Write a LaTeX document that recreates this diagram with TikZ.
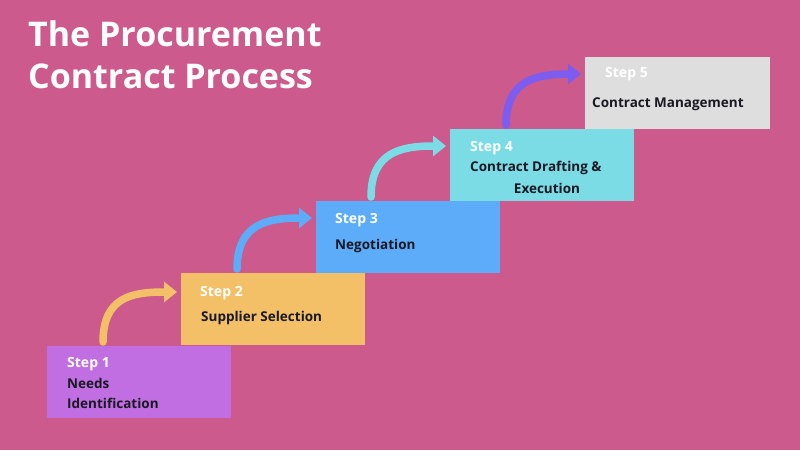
\documentclass[tikz,border=0pt]{standalone}
\usepackage{fontspec}
\setmainfont{Open Sans}
\definecolor{bgpink}{RGB}{205,90,140}
\definecolor{stepviolet}{RGB}{192,110,226}
\definecolor{steporange}{RGB}{243,192,104}
\definecolor{stepblue}{RGB}{92,172,250}
\definecolor{stepcyan}{RGB}{124,220,230}
\definecolor{stepgray}{RGB}{222,222,222}
\definecolor{arrowviolet}{RGB}{125,92,240}
\definecolor{textdark}{RGB}{25,25,35}
\usetikzlibrary{calc}
\usetikzlibrary{positioning,arrows.meta}
\tikzset{
  box/.style={anchor=north west, minimum width=184pt, minimum height=72pt, inner sep=0pt, draw=none},
  steplbl/.style={anchor=west, inner sep=0pt, text=white, font=\bfseries\fontsize{14}{16}\selectfont},
  desc/.style={anchor=west, inner sep=0pt, text=textdark, font=\bfseries\fontsize{13.5}{16}\selectfont},
  stepar/.style={line width=7.5pt, line cap=round, -{Triangle[length=13pt,width=20pt]}}
}
\begin{document}
\begin{tikzpicture}[x=1pt,y=-1pt]
  \fill [bgpink] (0,0) rectangle (800,450);
  \useasboundingbox (0,0) rectangle (800,450);

  \node [anchor=north west, inner sep=0pt, text=white, align=left,
    font=\bfseries\fontsize{34}{42}\selectfont] (title) at (28,20) {The Procurement\\Contract Process};

  \node [box, fill=stepviolet] (box1) at (47,346) {};
  \node [box, fill=steporange] (box2) at (181,273) {};
  \node [box, fill=stepblue] (box3) at (316,201) {};
  \node [box, fill=stepcyan] (box4) at (450,129) {};
  \node [box, fill=stepgray, minimum width=185pt] (box5) at (585,57) {};

  \node [steplbl] (s1) at (67,364) {Step 1};
  \node [desc] (d1a) at (67,383) {Needs};
  \node [desc] (d1b) at (67,403) {Identification};
  \node [steplbl] (s2) at (200,293) {Step 2};
  \node [desc] (d2) at (201,318) {Supplier Selection};
  \node [steplbl] (s3) at (335,220) {Step 3};
  \node [desc] (d3) at (335,246) {Negotiation};
  \node [steplbl] (s4) at (470,148) {Step 4};
  \node [desc] (d4a) at (470,168) {Contract Drafting \&};
  \node [desc, anchor=center] (d4b) at (547,188) {Execution};
  \node [steplbl] (s5) at (605,74) {Step 5};
  \node [desc] (d5) at (592,104) {Contract Management};

  \coordinate (a1) at ($(box1.north west)+(56,-4)$);
  \coordinate (a2) at ($(box2.north west)+(56,-4)$);
  \coordinate (a3) at ($(box3.north west)+(55,-4)$);
  \coordinate (a4) at ($(box4.north west)+(56,-4)$);
  \coordinate (e2) at ($(box2.north west)+(-4,19)$);
  \coordinate (e3) at ($(box3.north west)+(-4,17)$);
  \coordinate (e4) at ($(box4.north west)+(-4,17)$);
  \coordinate (e5) at ($(box5.north west)+(-4,17)$);

  \draw [stepar, steporange] (a1) .. controls ($(a1)+(0,-45)$) and ($(e2)+(-45,0)$) .. (e2);
  \draw [stepar, stepblue] (a2) .. controls ($(a2)+(0,-45)$) and ($(e3)+(-45,0)$) .. (e3);
  \draw [stepar, stepcyan] (a3) .. controls ($(a3)+(0,-45)$) and ($(e4)+(-45,0)$) .. (e4);
  \draw [stepar, arrowviolet] (a4) .. controls ($(a4)+(0,-45)$) and ($(e5)+(-45,0)$) .. (e5);
\end{tikzpicture}
\end{document}
